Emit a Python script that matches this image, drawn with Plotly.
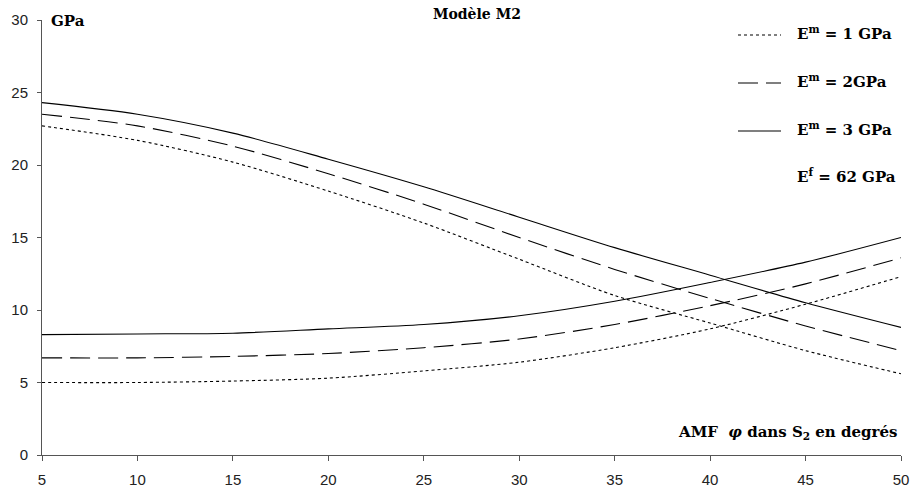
import plotly.graph_objects as go

angles = [5, 10, 15, 20, 25, 30, 35, 40, 45, 50]

# decreasing curves
dec_em1 = [22.7, 21.7, 20.2, 18.2, 16.0, 13.5, 11.0, 9.1, 7.2, 5.6]
dec_em2 = [23.5, 22.7, 21.3, 19.4, 17.3, 15.0, 12.8, 10.8, 8.9, 7.2]
dec_em3 = [24.3, 23.5, 22.2, 20.4, 18.5, 16.4, 14.3, 12.4, 10.5, 8.8]

# increasing curves
inc_em1 = [5.0, 5.0, 5.1, 5.3, 5.8, 6.4, 7.4, 8.7, 10.4, 12.3]
inc_em2 = [6.7, 6.7, 6.8, 7.0, 7.4, 8.0, 9.0, 10.3, 11.8, 13.6]
inc_em3 = [8.3, 8.35, 8.4, 8.7, 9.0, 9.6, 10.6, 11.9, 13.3, 15.0]

legend_labels = ["E<sup>m</sup> = 1 GPa", "E<sup>m</sup> = 2GPa", "E<sup>m</sup> = 3 GPa"]
dashes = ["3px,3px", "20px,8px", "solid"]

fig = go.Figure()
series = [(dec_em1, inc_em1), (dec_em2, inc_em2), (dec_em3, inc_em3)]
for (d, i), dash in zip(series, dashes):
    for ys in (d, i):
        fig.add_trace(go.Scatter(x=angles, y=ys, mode="lines",
                                 line=dict(color="black", width=1.1, dash=dash, shape="spline", smoothing=0.8),
                                 showlegend=False, hoverinfo="skip"))

serif = "DejaVu Serif"
L, R, T, B = 42, 901, 20, 455
W, H = 910, 491
def px(x):
    return (x - L) / (R - L)
def py(y):
    return (B - y) / (B - T)

# legend built from shapes + annotations
leg_y = [35, 83, 131]
for lab, dash, yy in zip(legend_labels, dashes, leg_y):
    fig.add_shape(type="line", xref="paper", yref="paper",
                  x0=px(738), x1=px(781), y0=py(yy), y1=py(yy),
                  line=dict(color="black", width=1.1, dash=dash))
    fig.add_annotation(xref="paper", yref="paper", x=px(795), y=py(yy - 2),
                       xanchor="left", yanchor="middle", showarrow=False,
                       text="<b>" + lab + "</b>",
                       font=dict(family=serif, size=15, color="black"))
fig.add_annotation(xref="paper", yref="paper", x=px(795), y=py(176),
                   xanchor="left", yanchor="middle", showarrow=False,
                   text="<b>E<sup>f</sup> = 62 GPa</b>",
                   font=dict(family=serif, size=15, color="black"))

fig.add_annotation(xref="paper", yref="paper", x=px(477), y=py(14),
                   xanchor="center", yanchor="middle", showarrow=False,
                   text="<b>Modèle M2</b>", font=dict(family=serif, size=14, color="black"))
fig.add_annotation(xref="paper", yref="paper", x=px(49), y=py(21),
                   xanchor="left", yanchor="middle", showarrow=False,
                   text="<b>GPa</b>", font=dict(family=serif, size=15, color="black"))
fig.add_annotation(xref="paper", yref="paper", x=px(899), y=py(432),
                   xanchor="right", yanchor="middle", showarrow=False,
                   text="<b>AMF  <i>φ</i> dans S<sub>2</sub> en degrés</b>",
                   font=dict(family=serif, size=15, color="black"))

fig.update_layout(
    width=W, height=H,
    margin=dict(l=L, r=W - R, t=T, b=H - B),
    plot_bgcolor="white", paper_bgcolor="white",
    xaxis=dict(range=[5, 50], tickvals=[5, 10, 15, 20, 25, 30, 35, 40, 45, 50],
               showgrid=False, zeroline=False, showline=True, linecolor="#555555", linewidth=1,
               ticks="outside", ticklen=5, tickcolor="#555555", automargin=False,
               ticklabelstandoff=6,
               tickfont=dict(family="Liberation Sans", size=15, color="#222222")),
    yaxis=dict(range=[0, 30], tickvals=[0, 5, 10, 15, 20, 25, 30],
               showgrid=False, zeroline=False, showline=True, linecolor="#555555", linewidth=1,
               ticks="outside", ticklen=4, tickcolor="#555555", automargin=False,
               ticklabelstandoff=6,
               tickfont=dict(family="Liberation Sans", size=15, color="#222222")),
)

fig.write_html("out.html", config={"displayModeBar": False},
               post_script="document.body.style.margin='0';document.body.style.overflow='hidden';")
